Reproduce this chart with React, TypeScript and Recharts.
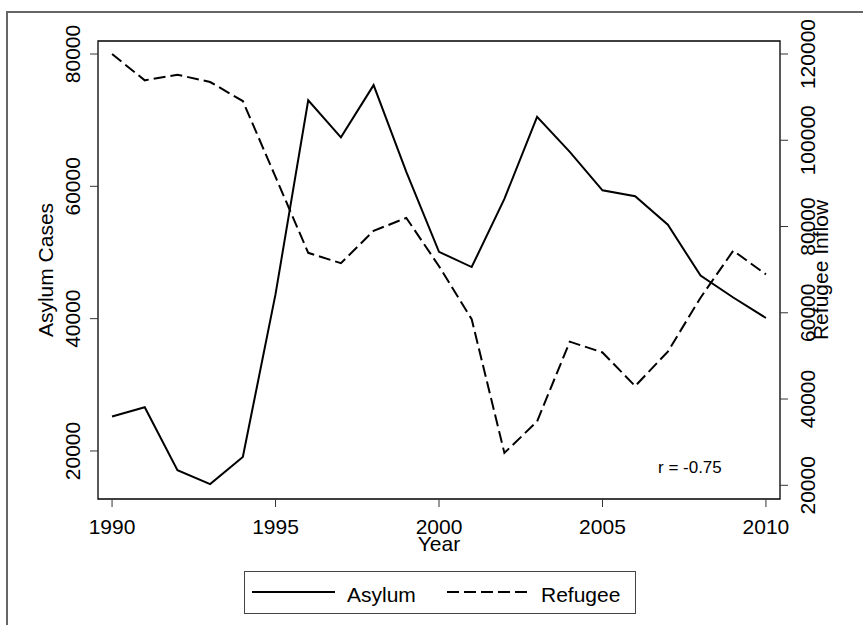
import { LineChart, Line, XAxis, YAxis, ReferenceArea } from 'recharts';

// Stata-ish look: black lines on white, gray outer frame
const FONT = '"Liberation Sans", Arial, Helvetica, sans-serif';
const INK = '#000';
const TICK_INK = '#333';

const years = [
  1990, 1991, 1992, 1993, 1994, 1995, 1996, 1997, 1998, 1999, 2000,
  2001, 2002, 2003, 2004, 2005, 2006, 2007, 2008, 2009, 2010,
];
const asylum = [
  25200, 26600, 17100, 15000, 19100, 43700, 73000, 67400, 75300, 62200, 50100,
  47800, 58100, 70500, 65200, 59400, 58500, 54200, 46500, 43200, 40100,
];
const refugee = [
  120000, 113900, 115200, 113500, 109100, 91500, 73900, 71500, 79000, 82000, 70800,
  58500, 27500, 34800, 53300, 50800, 43000, 51000, 63500, 74400, 68900,
];

const xTicks = [1990, 1995, 2000, 2005, 2010];
const leftTicks = [20000, 40000, 60000, 80000];
const rightTicks = [20000, 40000, 60000, 80000, 100000, 120000];

const xDomain: [number, number] = [1989.57, 2010.43];
const leftDomain: [number, number] = [12740, 81966];
const rightDomain: [number, number] = [16820, 123016];

const data = years.map((year, i) => ({ year, asylum: asylum[i], refugee: refugee[i] }));

function LeftTick(props: any) {
  const { x, y, payload } = props;
  const bx = x - 8;
  return (
    <text x={bx} y={y} transform={`rotate(-90, ${bx}, ${y})`} textAnchor="middle"
      fontFamily={FONT} fontSize={21} fill={INK}>
      {payload.value}
    </text>
  );
}

function RightTick(props: any) {
  const { x, y, payload } = props;
  const bx = x + 25;
  return (
    <text x={bx} y={y} transform={`rotate(-90, ${bx}, ${y})`} textAnchor="middle"
      fontFamily={FONT} fontSize={21} fill={INK}>
      {payload.value}
    </text>
  );
}

function BottomTick(props: any) {
  const { x, y, payload } = props;
  return (
    <text x={x} y={y + 25} textAnchor="middle" fontFamily={FONT} fontSize={21} fill={INK}>
      {payload.value}
    </text>
  );
}

function AxisTitle({ viewBox, text, side }: any) {
  const { x, y, width, height } = viewBox;
  if (side === 'bottom') {
    return (
      <text x={x + width / 2} y={y + 52} textAnchor="middle" fontFamily={FONT} fontSize={21} fill={INK}>
        {text}
      </text>
    );
  }
  const cx = side === 'left' ? x + 53 : x + 48;
  const cy = y + height / 2;
  return (
    <text x={cx} y={cy} transform={`rotate(-90, ${cx}, ${cy})`} textAnchor="middle"
      fontFamily={FONT} fontSize={21} fill={INK}>
      {text}
    </text>
  );
}

export default function App() {
  return (
    <div style={{ position: 'absolute', left: 0, top: 0, width: 863, height: 625, overflow: 'hidden', background: '#fff' }}>
      <div style={{
        position: 'absolute', left: 6, top: 11, width: 950, height: 700,
        border: '2px solid #666', boxSizing: 'border-box',
      }} />
      <LineChart width={863} height={625} data={data}
        margin={{ top: 41, right: 0, bottom: 0, left: 0 }}
        style={{ position: 'absolute', left: 0, top: 0 }}>
        <XAxis
          dataKey="year"
          type="number"
          domain={xDomain}
          ticks={xTicks}
          height={126}
          axisLine={false}
          tickLine={{ stroke: TICK_INK }}
          tickSize={8}
          tick={<BottomTick />}
          label={(p: any) => <AxisTitle {...p} text="Year" side="bottom" />}
        />
        <YAxis
          yAxisId="left"
          orientation="left"
          domain={leftDomain}
          ticks={leftTicks}
          width={98}
          axisLine={false}
          tickLine={{ stroke: TICK_INK }}
          tickSize={8}
          tick={<LeftTick />}
          label={(p: any) => <AxisTitle {...p} text="Asylum Cases" side="left" />}
        />
        <YAxis
          yAxisId="right"
          orientation="right"
          domain={rightDomain}
          ticks={rightTicks}
          width={83}
          axisLine={false}
          tickLine={{ stroke: TICK_INK }}
          tickSize={8}
          tick={<RightTick />}
          label={(p: any) => <AxisTitle {...p} text="Refugee Inflow" side="right" />}
        />
        <ReferenceArea
          yAxisId="left"
          x1={xDomain[0]}
          x2={xDomain[1]}
          y1={leftDomain[0]}
          y2={leftDomain[1]}
          fill="none"
          stroke={INK}
          strokeWidth={1.3}
          ifOverflow="visible"
        />
        <Line
          yAxisId="left"
          type="linear"
          dataKey="asylum"
          stroke={INK}
          strokeWidth={2}
          dot={false}
          isAnimationActive={false}
        />
        <Line
          yAxisId="right"
          type="linear"
          dataKey="refugee"
          stroke={INK}
          strokeWidth={2}
          strokeDasharray="12 5"
          dot={false}
          isAnimationActive={false}
        />
      </LineChart>
      <svg width={863} height={625} style={{ position: 'absolute', left: 0, top: 0, pointerEvents: 'none' }}>
        <text x={658} y={473} fontFamily={FONT} fontSize={17} fill={INK}>r = -0.75</text>
        <rect x={244.5} y={571.5} width={391} height={42} fill="#fff" stroke="#444" strokeWidth={1} />
        <line x1={252} y1={592} x2={335} y2={592} stroke={INK} strokeWidth={2} />
        <text x={347} y={602} fontFamily={FONT} fontSize={21} fill={INK}>Asylum</text>
        <line x1={447} y1={592} x2={530} y2={592} stroke={INK} strokeWidth={2} strokeDasharray="12 5" />
        <text x={541} y={602} fontFamily={FONT} fontSize={21} fill={INK}>Refugee</text>
      </svg>
    </div>
  );
}
